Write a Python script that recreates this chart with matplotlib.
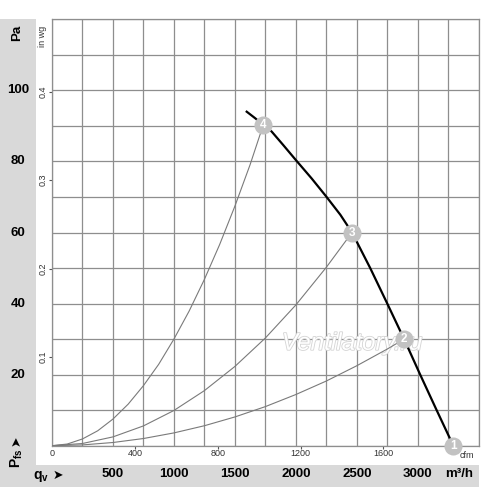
import matplotlib
matplotlib.use("Agg")
import matplotlib.pyplot as plt
from matplotlib.patches import Rectangle
from matplotlib.transforms import blended_transform_factory
import matplotlib.patheffects as pe

plt.rcParams['font.family'] = ['Liberation Sans', 'DejaVu Sans']
plt.rcParams['mathtext.fontset'] = 'custom'
plt.rcParams['mathtext.rm'] = 'Liberation Sans'
plt.rcParams['mathtext.bf'] = 'Liberation Sans:bold'

# ---- data (m3/h, Pa) ----
fan_q = [1597, 1665, 1733, 1802, 1897, 2000, 2130, 2250, 2365, 2461, 2610, 2750, 2888, 3020, 3155, 3292]
fan_p = [94.0, 92.2, 90.3, 88.4, 84.6, 80.4, 75.2, 70.1, 65.0, 60.0, 50.0, 40.0, 30.0, 20.0, 10.0, 0.0]

sys4_q = [0, 125, 250, 375, 500, 625, 750, 875, 1000, 1125, 1250, 1375, 1500, 1625, 1733]
sys4_p = [0, 0.47, 1.9, 4.2, 7.5, 11.7, 16.9, 22.9, 30.0, 37.9, 46.8, 56.6, 67.4, 79.1, 90.3]
sys3_q = [0, 250, 500, 750, 1000, 1250, 1500, 1750, 2000, 2250, 2461]
sys3_p = [0, 0.62, 2.48, 5.57, 9.91, 15.5, 22.3, 30.3, 39.6, 50.2, 60.0]
sys2_q = [0, 250, 500, 750, 1000, 1250, 1500, 1750, 2000, 2250, 2500, 2750, 2888]
sys2_p = [0, 0.22, 0.90, 2.02, 3.60, 5.62, 8.09, 11.0, 14.4, 18.2, 22.5, 27.2, 30.0]

op_labels = ['1', '2', '3', '4']
op_q = [3292, 2888, 2461, 1733]
op_p = [0, 30, 60, 90.3]

pa_ticks = [20, 40, 60, 80, 100]
m3h_ticks = [500, 1000, 1500, 2000, 2500, 3000]
cfm_ticks = [0, 400, 800, 1200, 1600]
inwg_ticks = [0.1, 0.2, 0.3, 0.4]
CFM_TO_M3H = 1.69901
INWG_TO_PA = 249.089

W, H = 500, 487
fig = plt.figure(figsize=(W / 100, H / 100), dpi=100)
fig.patch.set_facecolor('white')

def fx(px):
    return px / W

def fy(py):
    return 1 - py / H

GRAY = '#d9d9d9'
# left and bottom gray panels
fig.patches.append(Rectangle((0, 0), fx(35.7), fy(19), transform=fig.transFigure,
                             facecolor=GRAY, edgecolor='none', zorder=-5))
fig.patches.append(Rectangle((0, 0), fx(478.7), fy(465), transform=fig.transFigure,
                             facecolor=GRAY, edgecolor='none', zorder=-5))

ax = fig.add_axes([fx(52), fy(445.7), (478.7 - 52) / W, (445.7 - 19.3) / H])
ax.set_xlim(0, 3500)
ax.set_ylim(0, 120)
ax.set_xticks(range(0, 3501, 250))
ax.set_yticks(range(0, 121, 10))
ax.grid(True, color='#8e8e8e', lw=0.9)
ax.tick_params(which='major', length=0, labelbottom=False, labelleft=False)
ax.set_xticks([c * CFM_TO_M3H for c in cfm_ticks], minor=True)
ax.set_yticks([v * INWG_TO_PA for v in inwg_ticks], minor=True)
ax.tick_params(which='minor', length=2.2, width=0.8, color='#555555', direction='out',
               labelbottom=False, labelleft=False)
for s in ax.spines.values():
    s.set_color('#8e8e8e')
    s.set_linewidth(0.9)

# system curves
for q, p in [(sys4_q, sys4_p), (sys3_q, sys3_p), (sys2_q, sys2_p)]:
    ax.plot(q, p, color='#7a7a7a', lw=0.8, zorder=3)
# fan curve
ax.plot(fan_q, fan_p, color='black', lw=1.6, zorder=4, solid_joinstyle='round')
# operating points
for lab, q, p in zip(op_labels, op_q, op_p):
    ax.plot([q], [p], marker='o', ms=13, color='#c2c2c2', mec='none', zorder=5, clip_on=False)
    ax.text(q, p, lab, color='white', fontsize=8.5, fontweight='bold', ha='center',
            va='center', zorder=6, clip_on=False)

# watermark
ax.text(fx(352), fy(343.3), 'Ventilatory.ru', transform=fig.transFigure, fontsize=17.5,
        style='italic', color='white', ha='center', va='center', zorder=2,
        path_effects=[pe.withStroke(linewidth=1.2, foreground='#d4d4d4')])

bx = blended_transform_factory(fig.transFigure, ax.transData)
by = blended_transform_factory(ax.transData, fig.transFigure)

for v in pa_ticks:
    fig.text(fx(18.3), 0, str(v), transform=bx, fontsize=9.5, fontweight='bold',
             ha='center', va='center').set_y(v)
for v in inwg_ticks:
    fig.text(fx(42.7), 0, str(v), transform=bx, fontsize=6.5, rotation=90,
             color='#333333', ha='center', va='center').set_y(v * INWG_TO_PA)
for v in m3h_ticks:
    fig.text(0, fy(474.3), str(v), transform=by, fontsize=9.5, fontweight='bold',
             ha='center', va='center').set_x(v)
for v in cfm_ticks:
    fig.text(0, fy(454), str(v), transform=by, fontsize=6.5,
             color='#333333', ha='center', va='center').set_x(v * CFM_TO_M3H)

fig.text(fx(459), fy(474.3), 'm³/h', fontsize=9.5, fontweight='bold', ha='center', va='center')
fig.text(fx(466.5), fy(455.5), 'cfm', fontsize=6.5, color='#333333', ha='center', va='center')
fig.text(fx(17), fy(33), 'Pa', fontsize=9.5, fontweight='bold', rotation=90, ha='center', va='center')
fig.text(fx(42.7), fy(36), 'in wg', fontsize=6.5, color='#333333', rotation=90, ha='center', va='center')
fig.text(fx(17), fy(458), r'$\mathbf{P}_{\mathbf{fs}}$', fontsize=10, rotation=90, ha='center', va='center')
fig.text(fx(17), fy(441), '➤', fontsize=9, rotation=90, ha='center', va='center')
fig.text(fx(41), fy(476), r'$\mathbf{q}_{\mathbf{v}}$', fontsize=10, ha='center', va='center')
fig.text(fx(58), fy(476), '➤', fontsize=9, ha='center', va='center')

fig.savefig('out.png', dpi=100, facecolor='white')
